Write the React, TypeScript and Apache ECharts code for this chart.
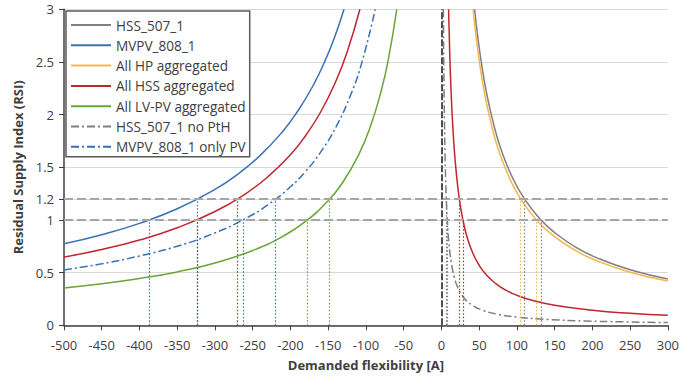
import React, { useEffect, useRef } from "react";
import * as echarts from "echarts";

// ---- Data ----
const hss507X = [44, 48, 53, 60, 70, 80, 95, 110, 130, 150, 180, 210, 250, 300];
const hss507Y = [3.0, 2.75, 2.491, 2.2, 1.886, 1.65, 1.389, 1.2, 1.015, 0.88, 0.733, 0.629, 0.528, 0.44];

const mvpvX = [-500, -450, -400, -350, -300, -270, -240, -210, -190, -170, -155, -142, -129];
const mvpvY = [0.774, 0.86, 0.968, 1.106, 1.29, 1.433, 1.613, 1.843, 2.037, 2.276, 2.497, 2.725, 3.0];

const hpX = [42, 46, 51, 58, 68, 78, 92, 105, 125, 145, 175, 205, 250, 300];
const hpY = [3.0, 2.739, 2.471, 2.172, 1.853, 1.615, 1.37, 1.2, 1.008, 0.869, 0.72, 0.615, 0.504, 0.42];

const hssNegX = [-500, -450, -400, -350, -300, -260, -230, -200, -180, -160, -140, -125, -108];
const hssNegY = [0.648, 0.72, 0.81, 0.926, 1.08, 1.246, 1.409, 1.62, 1.8, 2.025, 2.314, 2.592, 3.0];
const hssPosX = [9.5, 11, 13, 15, 18, 22, 26, 30, 35, 42, 50, 60, 72, 86, 100, 120, 150, 200, 250, 300];
const hssPosY = [3.0, 2.591, 2.192, 1.9, 1.583, 1.295, 1.096, 0.95, 0.814, 0.679, 0.57, 0.475, 0.396, 0.331, 0.285, 0.238, 0.19, 0.143, 0.114, 0.095];

const lvpvX = [-500, -450, -400, -350, -300, -250, -210, -180, -150, -130, -110, -95, -80, -70, -59.2];
const lvpvY = [0.355, 0.394, 0.444, 0.507, 0.592, 0.71, 0.845, 0.986, 1.183, 1.365, 1.614, 1.868, 2.219, 2.536, 3.0];

const noPthX = [2.6, 3, 3.5, 4, 5, 6, 7, 8, 10, 13, 17, 22, 30, 40, 55, 75, 100, 140, 190, 240, 300];
const noPthY = [3.0, 2.6, 2.229, 1.95, 1.56, 1.3, 1.114, 0.975, 0.78, 0.6, 0.459, 0.355, 0.26, 0.195, 0.142, 0.104, 0.078, 0.056, 0.041, 0.033, 0.026];

const onlyPvX = [-500, -450, -400, -350, -300, -260, -230, -200, -180, -160, -140, -120, -105, -87.7];
const onlyPvY = [0.526, 0.584, 0.658, 0.751, 0.877, 1.012, 1.143, 1.315, 1.461, 1.644, 1.879, 2.192, 2.505, 3.0];

// RSI threshold levels and where each curve crosses them (x at RSI=1, x at RSI=1.2)
const thresholdLevels = [1, 1.2];
const hss507Cross = [132, 110];
const mvpvCross = [-387, -323];
const hpCross = [125, 104.5];
const hssNegCross = [-324, -270];
const hssPosCross = [28.5, 23.8];
const lvpvCross = [-177.5, -148];
const noPthCross = [7.8, 6.5];
const onlyPvCross = [-263, -220];

const yTicks = [0, 0.5, 1, 1.2, 1.5, 2, 2.5, 3];

const names = [
  "HSS_507_1",
  "MVPV_808_1",
  "All HP aggregated",
  "All HSS aggregated",
  "All LV-PV aggregated",
  "HSS_507_1 no PtH",
  "MVPV_808_1 only PV",
];

const COLORS = {
  grey: "#7f7f7f",
  blue: "#3a70b5",
  orange: "#f9b54a",
  red: "#c0262d",
  green: "#6aa535",
};

const DASHDOT = [8, 3, 2, 3];
const FONT = "Open Sans";

function zip(xs: number[], ys: number[]) {
  return xs.map((x, i) => [x, ys[i]]);
}

function crossLines(cross: number[], color: string) {
  return cross.map((x, i) => [
    { coord: [x, 0], lineStyle: { color, width: 1.2, type: [1.5, 2], opacity: 1 } },
    { coord: [x, thresholdLevels[i]] },
  ]);
}

function lineSeries(
  name: string,
  xs: number[],
  ys: number[],
  color: string,
  cross: number[],
  dashed: boolean
) {
  return {
    type: "line",
    name,
    data: zip(xs, ys),
    smooth: 0.5,
    symbol: "none",
    showSymbol: false,
    color,
    itemStyle: { color },
    lineStyle: { color, width: 1.5, type: dashed ? DASHDOT : "solid" },
    z: 3,
    markLine: {
      silent: true,
      symbol: ["none", "none"],
      label: { show: false },
      lineStyle: { color, width: 1.2, type: [1.5, 2] },
      data: crossLines(cross, color),
    },
  };
}

export default function App() {
  const ref = useRef<HTMLDivElement>(null);

  useEffect(() => {
    if (!ref.current) return;
    const chart = echarts.init(ref.current, undefined, { renderer: "svg" });

    const series: any[] = [
      lineSeries(names[0], hss507X, hss507Y, COLORS.grey, hss507Cross, false),
      lineSeries(names[1], mvpvX, mvpvY, COLORS.blue, mvpvCross, false),
      lineSeries(names[2], hpX, hpY, COLORS.orange, hpCross, false),
      lineSeries(names[3], hssNegX, hssNegY, COLORS.red, hssNegCross, false),
      lineSeries(names[3], hssPosX, hssPosY, COLORS.red, hssPosCross, false),
      lineSeries(names[4], lvpvX, lvpvY, COLORS.green, lvpvCross, false),
      lineSeries(names[5], noPthX, noPthY, COLORS.grey, noPthCross, true),
      lineSeries(names[6], onlyPvX, onlyPvY, COLORS.blue, onlyPvCross, true),
      {
        type: "line",
        name: "refLines",
        data: [[0, 0]],
        symbol: "none",
        lineStyle: { opacity: 0 },
        z: 2,
        markLine: {
          silent: true,
          symbol: ["none", "none"],
          label: { show: false },
          data: [
            ...thresholdLevels.map((v) => ({
              yAxis: v,
              lineStyle: { color: "#a6a6a6", width: 2, type: [9, 4] },
            })),
            [
              { coord: [0, 0], lineStyle: { color: "#505050", width: 2, type: [7, 2] } },
              { coord: [0, 3] },
            ],
          ],
        },
      },
    ];

    chart.setOption({
      animation: false,
      backgroundColor: "#ffffff",
      textStyle: { fontFamily: FONT },
      grid: { left: 64, right: 12, top: 9.3, bottom: 55.7, containLabel: false },
      legend: {
        data: names,
        orient: "vertical",
        left: 66,
        top: 11,
        itemWidth: 40,
        itemHeight: 14,
        itemGap: 6.3,
        padding: [7, 4, 3, 4],
        backgroundColor: "#ffffff",
        borderColor: "#595959",
        borderWidth: 1.5,
        borderRadius: 0,
        itemStyle: { opacity: 0 },
        textStyle: { fontFamily: FONT, fontSize: 13.6, color: "#404040", lineHeight: 13 },
        selectedMode: false,
      },
      xAxis: {
        type: "value",
        min: -500,
        max: 300,
        interval: 50,
        name: "Demanded flexibility [A]",
        nameLocation: "middle",
        nameGap: 33,
        nameTextStyle: { fontFamily: FONT, fontSize: 13, fontWeight: "bold", color: "#404040" },
        axisLine: { show: true, onZero: false, lineStyle: { color: "#404040", width: 1.5 } },
        axisTick: { show: true, length: 5, lineStyle: { color: "#404040" } },
        axisLabel: { fontFamily: FONT, fontSize: 13, color: "#404040", margin: 13 },
        splitLine: { show: false },
      },
      yAxis: {
        type: "value",
        min: 0,
        max: 3,
        interval: 0.5,
        name: "Residual Supply Index (RSI)",
        nameLocation: "middle",
        nameGap: 37,
        nameTextStyle: { fontFamily: FONT, fontSize: 13, fontWeight: "bold", color: "#404040" },
        axisLine: { show: true, onZero: false, lineStyle: { color: "#404040", width: 1.5 } },
        axisTick: { show: true, length: 5, customValues: yTicks, lineStyle: { color: "#404040" } },
        axisLabel: { fontFamily: FONT, fontSize: 13, color: "#404040", margin: 10, customValues: yTicks },
        splitLine: { show: true, lineStyle: { color: "#d9d9d9", width: 1 } },
      },
      series,
    });

    return () => chart.dispose();
  }, []);

  return (
    <div
      ref={ref}
      style={{ position: "fixed", left: 0, top: 0, width: 682, height: 381 }}
    />
  );
}
